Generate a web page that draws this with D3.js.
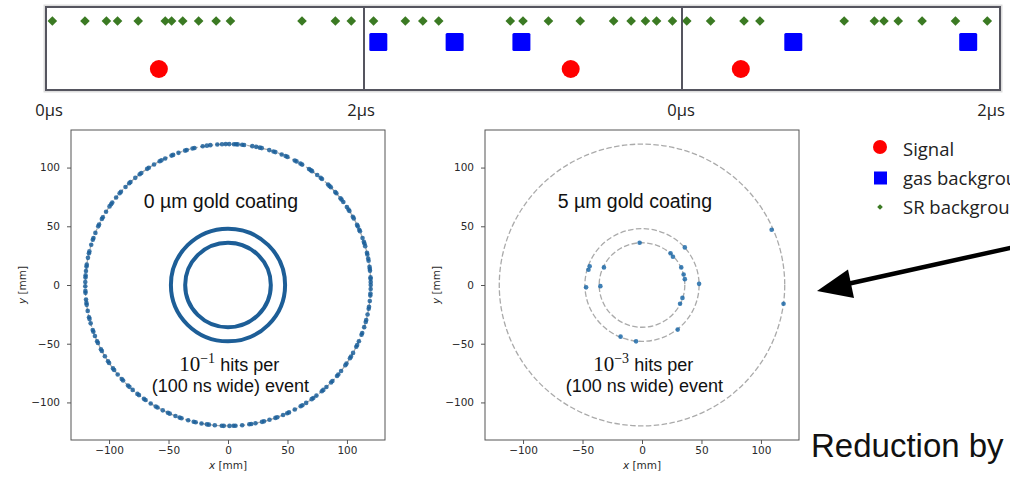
<!DOCTYPE html>
<html><head><meta charset="utf-8">
<script src="https://cdn.jsdelivr.net/npm/d3@7/dist/d3.min.js"></script>
<style>body{margin:0;background:#fff}svg{display:block}</style>
</head><body><svg id="c" width="1010" height="478"></svg>
<script>
// ---------- DATA ----------
// Time strip: three 2 µs windows, hit times in µs
const timeLabels = ["0µs", "2µs"];
const stripRows = ["SR", "gas", "signal"];
const win1SR = [0.04, 0.245, 0.38, 0.45, 0.58, 0.75, 0.79, 0.86, 0.96, 1.07, 1.16, 1.61, 1.82, 1.92];
const win1Gas = [];
const win1Signal = [0.71];
const win2SR = [0.06, 0.26, 0.37, 0.47, 0.92, 1.0, 1.16, 1.36, 1.57, 1.68, 1.77, 1.84, 1.94];
const win2Gas = [0.09, 0.57, 0.99];
const win2Signal = [1.30];
const win3SR = [0.03, 0.18, 0.39, 0.49, 1.02, 1.21, 1.27, 1.36, 1.51, 1.72, 1.92];
const win3Gas = [0.70, 1.80];
const win3Signal = [0.37];
const legendLabels = ["Signal", "gas background", "SR background"];

// Detector hit maps (mm)
const tickValues = [-100, -50, 0, 50, 100];
const layerRadii = [36, 48, 120];
const denseLayerRadii = [36, 48];          // saturated layers, 0 µm coating
const leftOuterHitAngles = [0,1.2,2.5,3.1,5.8,6.6,7.4,9.9,10.8,12.5,13.2,16,17.1,17.9,19.5,22.4,23.1,24.6,25.3,28.2,29,31.7,32.4,33.6,36.1,37.3,38,40.6,41.3,43.9,44.7,45.5,48.8,49.5,51.3,53.9,54.6,55.4,58.7,59.5,61.3,62.1,65.4,66.2,67.9,70.6,71.4,73.2,76.3,77.1,78.6,80.2,83.5,84.3,86.1,86.8,87.6,89.5,90.9,92.4,94.3,97.1,98.5,100.2,103.6,104.4,106.8,107.5,110.3,112.6,113.3,116.1,117.8,118.6,121.2,123.7,124.5,127.4,128.2,130.5,133.1,133.8,135.9,138.6,139.4,141.6,144.2,145,146.1,148.7,151.3,152.1,154.6,155.4,158.3,160.5,161.3,163.4,166.2,167,168.9,171.7,172.5,174.3,176.1,176.9,178.8,180.5,182.4,183.2,185.9,187.3,188.1,190.6,193.2,194,195.8,198.6,199.4,201.2,203.5,204.3,207.1,207.9,210.4,212.8,213.6,216.3,217.1,219.4,221.9,222.7,225.5,226.3,228.1,230.6,231.4,233.9,234.7,237.2,239.6,240.4,242.8,245.1,245.9,248.4,250.2,251,253.8,256.1,256.9,259.3,261.5,262.3,264.7,267.5,268.3,270.6,272.2,273,275.7,278.6,279.4,281.1,283.8,284.6,286.9,289.4,290.2,292.7,294.5,295.3,297.9,300.6,301.4,303.2,305.9,306.7,308.3,311.1,311.9,313.6,316.2,317,319.8,320.6,322.4,325.3,326.1,328.7,329.5,331.2,334,334.8,336.5,339.3,340.1,342.6,344.8,345.6,347.9,350.3,351.1,353.5,355.7,356.5,358.4];
const rightHitsX = [-2, 24, 26, 36, 33, 35, 36, 48, 34, 32, 30, -18, -5, -35, -47, -32, -45, -44, 119, 109];
const rightHitsY = [36, 27, 24, 32, 15, 9, 5, 1, -11, -16, -38, -44, -48, -1, -2, 15, 13, 16, -16, 47];
const panelTitles = ["0 µm gold coating", "5 µm gold coating"];
const rateExponents = ["−1", "−3"];

// ---------- DRAW ----------
const svg = d3.select("#c");
const sans = "Liberation Sans, Arial, sans-serif";
const cal = "'Open Sans', Lato, sans-serif";

// --- time strip ---
const wins = [
  {x0: 46, SR: win1SR, gas: win1Gas, signal: win1Signal},
  {x0: 364, SR: win2SR, gas: win2Gas, signal: win2Signal},
  {x0: 682, SR: win3SR, gas: win3Gas, signal: win3Signal}
];
const rowY = d3.scaleOrdinal(stripRows, [21, 42, 69]);
const stripG = svg.append("g");
stripG.append("rect").attr("x", 45).attr("y", 6).attr("width", 956).attr("height", 85)
  .attr("fill", "none").attr("stroke", "#ddd").attr("stroke-width", 3);
wins.forEach(w => {
  const t = d3.scaleLinear([0, 2], [w.x0, w.x0 + 318]);
  const g = stripG.append("g");
  g.selectAll(".sr").data(w.SR).join("rect")
    .attr("width", 6.8).attr("height", 6.8).attr("x", -3.4).attr("y", -3.4)
    .attr("transform", d => `translate(${t(d)},${rowY("SR")}) rotate(45)`)
    .attr("fill", "#3b7a23");
  g.selectAll(".gas").data(w.gas).join("rect")
    .attr("x", d => t(d) - 9).attr("y", rowY("gas") - 9).attr("width", 18).attr("height", 18)
    .attr("rx", 1.5).attr("fill", "#0000ff");
  g.selectAll(".sig").data(w.signal).join("circle")
    .attr("cx", d => t(d)).attr("cy", rowY("signal")).attr("r", 9).attr("fill", "#ff0000");
});
stripG.append("rect").attr("x", 46).attr("y", 7).attr("width", 954).attr("height", 83)
  .attr("fill", "none").attr("stroke", "#55555f").attr("stroke-width", 2);
[364, 682].forEach(x => stripG.append("line").attr("x1", x).attr("x2", x).attr("y1", 7).attr("y2", 90)
  .attr("stroke", "#55555f").attr("stroke-width", 2));

// time labels
const labelPos = [[49, 0], [361, 1], [681, 0], [991, 1]];
labelPos.forEach(([x, i]) => svg.append("text").attr("x", x).attr("y", 116)
  .attr("text-anchor", "middle").attr("font-family", cal).attr("font-size", 16.5)
  .attr("fill", "#222").text(timeLabels[i]));

// --- legend ---
const lg = svg.append("g");
lg.append("circle").attr("cx", 880).attr("cy", 147).attr("r", 7).attr("fill", "#ff0000");
lg.append("rect").attr("x", 874).attr("y", 171.5).attr("width", 13).attr("height", 13).attr("fill", "#0000ff");
lg.append("rect").attr("x", -2).attr("y", -2).attr("width", 4).attr("height", 4)
  .attr("transform", "translate(880,207) rotate(45)").attr("fill", "#3b7a23");
[156, 185, 214].forEach((y, i) => lg.append("text").attr("x", 903).attr("y", y)
  .attr("font-family", cal).attr("font-size", 18.5).attr("fill", "#222").text(legendLabels[i]));

// --- hit map panels ---
function panel(left, titleIdx, drawHits) {
  const x = d3.scaleLinear([-132, 132], [left, left + 314]);
  const y = d3.scaleLinear([-132, 132], [440, 130]);
  const g = svg.append("g");
  const fmt = d => d < 0 ? "−" + Math.abs(d) : d;
  const ax = g.append("g").attr("transform", "translate(0,440)")
    .call(d3.axisBottom(x).tickValues(tickValues).tickSize(4).tickPadding(3).tickFormat(fmt));
  const ay = g.append("g").attr("transform", `translate(${left},0)`)
    .call(d3.axisLeft(y).tickValues(tickValues).tickSize(4).tickPadding(7).tickFormat(fmt));
  [ax, ay].forEach(a => {
    a.select(".domain").remove();
    a.selectAll("line").attr("stroke", "#555");
    a.selectAll("text").attr("font-family", "DejaVu Sans, sans-serif").attr("font-size", 10.5).attr("fill", "#2a2a2a");
  });
  g.append("rect").attr("x", left).attr("y", 130).attr("width", 314).attr("height", 310)
    .attr("fill", "none").attr("stroke", "#555").attr("stroke-width", 1);
  const xt = g.append("text").attr("x", x(0)).attr("y", 469).attr("text-anchor", "middle")
    .attr("font-family", "DejaVu Sans, sans-serif").attr("font-size", 10.5).attr("fill", "#2a2a2a");
  xt.append("tspan").attr("font-style", "italic").text("x");
  xt.append("tspan").text(" [mm]");
  const yt = g.append("text").attr("transform", `translate(${left - 45},${y(0)}) rotate(-90)`)
    .attr("text-anchor", "middle")
    .attr("font-family", "DejaVu Sans, sans-serif").attr("font-size", 10.5).attr("fill", "#2a2a2a");
  yt.append("tspan").attr("font-style", "italic").text("y");
  yt.append("tspan").text(" [mm]");
  g.selectAll(".layer").data(layerRadii).join("ellipse")
    .attr("cx", x(0)).attr("cy", y(0))
    .attr("rx", d => x(d) - x(0)).attr("ry", d => y(0) - y(d))
    .attr("fill", "none").attr("stroke", "#aaa").attr("stroke-width", 1.3)
    .attr("stroke-dasharray", "5.5,2.4");
  drawHits(g, x, y);
  g.append("text").attr("x", x(-6)).attr("y", 208).attr("text-anchor", "middle")
    .attr("font-family", sans).attr("font-size", 19.5).attr("fill", "#111").text(panelTitles[titleIdx]);
  const r = g.append("text").attr("x", x(1)).attr("y", 371).attr("text-anchor", "middle").attr("fill", "#111");
  r.append("tspan").attr("font-family", "Liberation Serif, DejaVu Serif, serif").attr("font-size", 21).text("10");
  r.append("tspan").attr("font-family", "Liberation Serif, DejaVu Serif, serif").attr("font-size", 14).attr("dy", -8).text(rateExponents[titleIdx]);
  r.append("tspan").attr("font-family", sans).attr("font-size", 18).attr("dy", 8).text(" hits per");
  g.append("text").attr("x", x(2)).attr("y", 392).attr("text-anchor", "middle")
    .attr("font-family", sans).attr("font-size", 18).attr("fill", "#111").text("(100 ns wide) event");
}

panel(71, 0, (g, x, y) => {
  g.selectAll(".dense").data(denseLayerRadii).join("ellipse")
    .attr("cx", x(0)).attr("cy", y(0))
    .attr("rx", d => x(d) - x(0)).attr("ry", d => y(0) - y(d))
    .attr("fill", "none").attr("stroke", "#1d5e97").attr("stroke-width", 4);
  g.selectAll(".hit").data(leftOuterHitAngles).join("circle")
    .attr("cx", a => x(120 * Math.cos(a * Math.PI / 180)))
    .attr("cy", a => y(120 * Math.sin(a * Math.PI / 180)))
    .attr("r", 2.3).attr("fill", "#1b5f9a").attr("fill-opacity", 0.85);
});

panel(485, 1, (g, x, y) => {
  g.selectAll(".hit").data(rightHitsX).join("circle")
    .attr("cx", d => x(d)).attr("cy", (d, i) => y(rightHitsY[i]))
    .attr("r", 2.3).attr("fill", "#1f6aa8").attr("fill-opacity", 0.85);
});

// --- arrow & caption ---
svg.append("line").attr("x1", 1012).attr("y1", 247.5).attr("x2", 845).attr("y2", 284.5)
  .attr("stroke", "#000").attr("stroke-width", 4.5);
svg.append("path").attr("d", "M817,291 L848,269.5 L854,298 Z").attr("fill", "#000");
svg.append("text").attr("x", 811).attr("y", 457).attr("font-family", sans).attr("font-size", 33)
  .attr("fill", "#111").text("Reduction by");
</script></body></html>
